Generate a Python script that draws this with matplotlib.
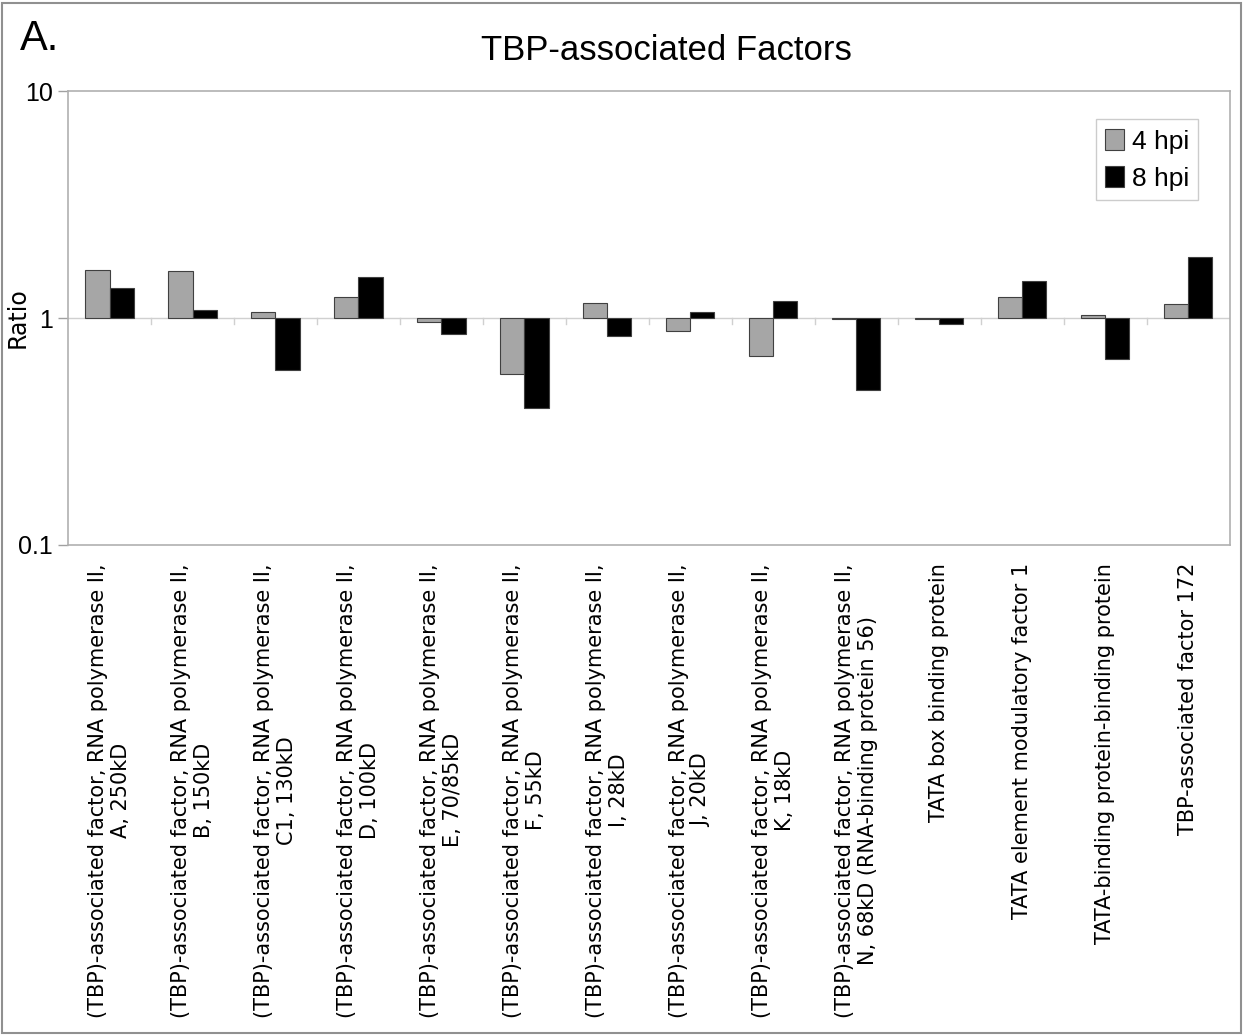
import matplotlib.pyplot as plt
import matplotlib.patches as mpatches
import numpy as np

categories = [
    "(TBP)-associated factor, RNA polymerase II,\nA, 250kD",
    "(TBP)-associated factor, RNA polymerase II,\nB, 150kD",
    "(TBP)-associated factor, RNA polymerase II,\nC1, 130kD",
    "(TBP)-associated factor, RNA polymerase II,\nD, 100kD",
    "(TBP)-associated factor, RNA polymerase II,\nE, 70/85kD",
    "(TBP)-associated factor, RNA polymerase II,\nF, 55kD",
    "(TBP)-associated factor, RNA polymerase II,\nI, 28kD",
    "(TBP)-associated factor, RNA polymerase II,\nJ, 20kD",
    "(TBP)-associated factor, RNA polymerase II,\nK, 18kD",
    "(TBP)-associated factor, RNA polymerase II,\nN, 68kD (RNA-binding protein 56)",
    "TATA box binding protein",
    "TATA element modulatory factor 1",
    "TATA-binding protein-binding protein",
    "TBP-associated factor 172",
]
hpi4 = [1.63, 1.61, 1.06, 1.24, 0.96, 0.565, 1.17, 0.88, 0.68, 0.99, 0.99, 1.24, 1.03, 1.15]
hpi8 = [1.36, 1.08, 0.59, 1.51, 0.85, 0.40, 0.83, 1.06, 1.19, 0.48, 0.94, 1.46, 0.66, 1.86]
series_names = ["4 hpi", "8 hpi"]
yticks = [0.1, 1, 10]
ytick_labels = ["0.1", "1", "10"]

narrow = ['Liberation Sans', 'DejaVu Sans']
plain = ['DejaVu Sans']

fig = plt.figure(figsize=(12.46, 10.36), dpi=100)
ax = fig.add_axes([0.0546, 0.474, 0.9324, 0.438])

x = np.arange(len(categories))
w = 0.29
edge = '#404040'
ax.bar(x - w / 2, np.array(hpi4) - 1, w, bottom=1, color='#a6a6a6',
       edgecolor=edge, linewidth=0.8, label=series_names[0], zorder=3)
ax.bar(x + w / 2, np.array(hpi8) - 1, w, bottom=1, color='black',
       edgecolor=edge, linewidth=0.8, label=series_names[1], zorder=3)

ax.set_yscale('log')
ax.set_ylim(0.1, 10)
ax.set_xlim(-0.5, len(categories) - 0.5)
ax.set_yticks(yticks)
ax.set_yticklabels(ytick_labels, family=narrow, fontsize=18)
ax.minorticks_off()
ax.tick_params(axis='y', length=7, color='#a0a0a0', width=1, pad=4)
ax.set_xticks([])

for s in ax.spines.values():
    s.set_color('#b0b0b0')
    s.set_linewidth(1.2)

# category axis crosses at 1
ax.axhline(1, color='#d0d0d0', lw=1, zorder=1)
for b in np.arange(0.5, len(categories) - 0.5):
    ax.plot([b, b], [1, 0.94], color='#d0d0d0', lw=1, zorder=1)

for xi, lab in zip(x, categories):
    ax.text(xi, -0.04, lab, transform=ax.get_xaxis_transform(), rotation=90,
            ha='center', va='top', multialignment='center', linespacing=1.15,
            fontsize=15, family=plain)

ax.set_ylabel("Ratio", fontsize=17, family=plain)
ax.yaxis.set_label_coords(-0.0327, 0.5)

leg = ax.legend(loc='upper right', bbox_to_anchor=(0.984, 0.967), prop={'family': narrow, 'size': 19},
                frameon=True, fancybox=False, edgecolor='#c0c0c0', handlelength=0.7,
                handleheight=0.9, handletextpad=0.3, borderpad=0.35, labelspacing=0.45)
leg.get_frame().set_linewidth(1)

fig.text(0.535, 0.951, "TBP-associated Factors", ha='center', va='center',
         fontsize=25, family=narrow)
fig.text(0.016, 0.962, "A.", ha='left', va='center', fontsize=30, family=narrow)

fig.patches.append(mpatches.Rectangle((0.002, 0.003), 0.994, 0.994, transform=fig.transFigure,
                                      fill=False, edgecolor='#909090', linewidth=1.5))

fig.savefig("out.png", dpi=100)
